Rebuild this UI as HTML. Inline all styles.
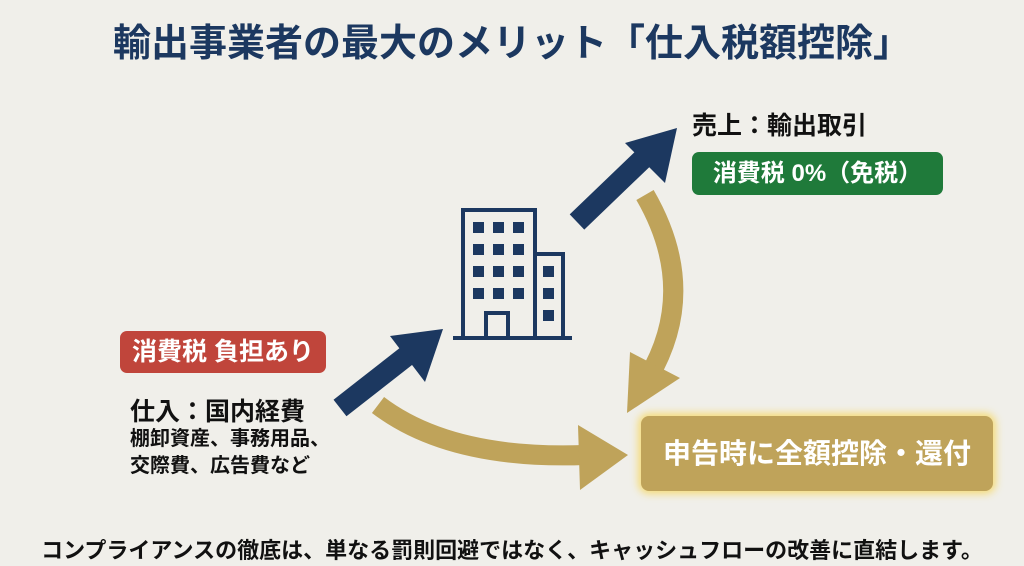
<!DOCTYPE html>
<html><head><meta charset="utf-8"><style>
body{margin:0;width:1024px;height:566px;background:#f0efea;position:relative;overflow:hidden;font-family:"Liberation Sans","Noto Sans CJK JP",sans-serif;font-weight:bold}
.a{position:absolute;white-space:nowrap}
</style></head><body>
<div class="a" style="left:0;width:1024px;top:20px;text-align:center;font-size:38px;line-height:48px;color:#1c3860">輸出事業者の最大のメリット「仕入税額控除」</div>
<div class="a" style="left:692px;top:106px;font-size:25px;color:#111">売上：輸出取引</div>
<div class="a" style="left:692px;top:152px;width:251px;height:43px;background:#1f7a3a;border-radius:7px;color:#fff;font-size:24px;line-height:43px;text-align:center">消費税 0%（免税）</div>
<div class="a" style="left:120px;top:331px;width:206px;height:42px;background:#c0453b;border-radius:7px;color:#fff;font-size:25px;line-height:42px;text-align:center">消費税 負担あり</div>
<div class="a" style="left:130px;top:392px;font-size:25px;color:#111">仕入：国内経費</div>
<div class="a" style="left:130px;top:426px;font-size:20px;color:#111;line-height:27px">棚卸資産、事務用品、<br>交際費、広告費など</div>
<div class="a" style="left:641px;top:416px;width:352px;height:75px;background:#bfa35a;border-radius:8px;box-shadow:0 0 8px 3px #f5dc7a;color:#fff;font-size:28px;line-height:75px;text-align:center">申告時に全額控除・還付</div>
<div class="a" style="left:0;width:1024px;top:533px;text-align:center;font-size:22px;color:#111">コンプライアンスの徹底は、単なる罰則回避ではなく、キャッシュフローの改善に直結します。</div>
<svg class="a" style="left:0;top:0" width="1024" height="566">
<g fill="none" stroke="#bfa35a" stroke-width="20">
<path d="M645,195 Q700,290 648,378"/>
<path d="M378,405 Q450,460 585,455"/>
</g>
<polygon points="627,413 630,352 680,378" fill="#bfa35a"/>
<polygon points="628,455 578,425 580,490" fill="#bfa35a"/>
<g stroke="#1c3860" stroke-width="21" fill="none"><line x1="340" y1="408" x2="418" y2="347"/><line x1="577" y1="222" x2="652" y2="150"/></g>
<polygon points="443,329 425,382 390,336" fill="#1c3860"/>
<polygon points="677,128 665,183 625,143" fill="#1c3860"/>
<g fill="none" stroke="#1c3860" stroke-width="4">
<rect x="463" y="210" width="72" height="128"/><rect x="535" y="254" width="28" height="84"/>
<rect x="486" y="313" width="22" height="25"/>
<line x1="453" y1="338" x2="572" y2="338"/></g>
<g fill="#1c3860">
<rect x="473" y="222" width="11" height="11"/><rect x="493" y="222" width="11" height="11"/><rect x="513" y="222" width="11" height="11"/>
<rect x="473" y="244" width="11" height="11"/><rect x="493" y="244" width="11" height="11"/><rect x="513" y="244" width="11" height="11"/>
<rect x="473" y="266" width="11" height="11"/><rect x="493" y="266" width="11" height="11"/><rect x="513" y="266" width="11" height="11"/>
<rect x="473" y="288" width="11" height="11"/><rect x="493" y="288" width="11" height="11"/><rect x="513" y="288" width="11" height="11"/>
<rect x="543" y="266" width="11" height="11"/><rect x="543" y="288" width="11" height="11"/><rect x="543" y="310" width="11" height="11"/>
</g>
</svg>
</body></html>
